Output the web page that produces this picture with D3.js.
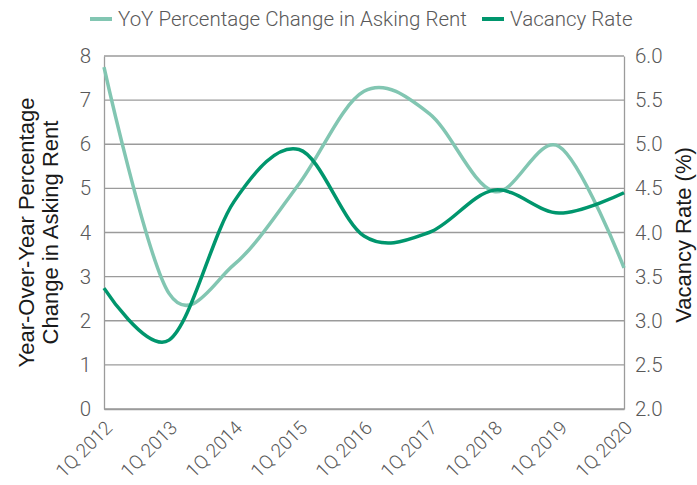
<!DOCTYPE html>
<html>
<head>
<meta charset="utf-8">
<script src="https://cdn.jsdelivr.net/npm/d3@7"></script>
<style>
  body { margin: 0; background: #fff; }
  .tick text, .legend text { font-family: Roboto, "Liberation Sans", sans-serif; font-weight: 300; fill: #595959; }
  .title { font-family: "Liberation Sans", Arial, sans-serif; fill: #1a1a1a; }
</style>
</head>
<body>
<div id="chart"></div>
<script>
/* global d3 */
var quarters = ['1Q 2012', '1Q 2013', '1Q 2014', '1Q 2015', '1Q 2016', '1Q 2017', '1Q 2018', '1Q 2019', '1Q 2020'];
var rentChange = [7.75, 2.62, 3.27, 5.1, 7.2, 6.7, 4.93, 5.95, 3.2];
var vacancyRate = [3.37, 2.78, 4.35, 4.94, 3.96, 4.0, 4.48, 4.22, 4.45];
var leftTicks = [0, 1, 2, 3, 4, 5, 6, 7, 8];
var rightTicks = [2.0, 2.5, 3.0, 3.5, 4.0, 4.5, 5.0, 5.5, 6.0];

var lightGreen = '#82c6b2';
var darkGreen = '#00966d';

function plotRentChart() {
  let width = 697;
  let height = 485;
  let margin = { top: 56, right: 73, bottom: 76, left: 104 };
  let w = width - margin.left - margin.right;
  let h = height - margin.top - margin.bottom;

  let svg = d3.select('#chart')
    .append('svg')
    .attr('width', width)
    .attr('height', height);

  let g = svg.append('g')
    .attr('transform', 'translate(' + margin.left + ',' + margin.top + ')');

  let x = d3.scalePoint().domain(quarters).range([0, w]);
  let yLeft = d3.scaleLinear().domain([0, 8]).range([h, 0]);
  let yRight = d3.scaleLinear().domain([2, 6]).range([h, 0]);

  // gridlines
  g.selectAll('line.grid')
    .data(leftTicks)
    .enter()
    .append('line')
    .attr('class', 'grid')
    .attr('x1', 0)
    .attr('x2', w)
    .attr('y1', d => yLeft(d))
    .attr('y2', d => yLeft(d))
    .attr('stroke', '#9b9b9b')
    .attr('stroke-width', 1.3);

  // left axis
  let leftAxis = g.append('g')
    .call(d3.axisLeft(yLeft).tickValues(leftTicks).tickSize(0).tickPadding(13).tickFormat(d3.format('d')));
  leftAxis.select('.domain').attr('stroke', '#9b9b9b').attr('stroke-width', 1.3);
  leftAxis.selectAll('text').attr('font-size', 20.5);

  // right axis
  let rightAxis = g.append('g')
    .attr('transform', 'translate(' + w + ',0)')
    .call(d3.axisRight(yRight).tickValues(rightTicks).tickSize(0).tickPadding(11).tickFormat(d3.format('.1f')));
  rightAxis.select('.domain').attr('stroke', '#9b9b9b').attr('stroke-width', 1.3);
  rightAxis.selectAll('text').attr('font-size', 20.5);

  // x axis labels, rotated
  let xAxis = g.append('g')
    .attr('transform', 'translate(0,' + h + ')')
    .call(d3.axisBottom(x).tickSize(0).tickPadding(0));
  xAxis.select('.domain').attr('stroke', '#9b9b9b').attr('stroke-width', 1.3);
  xAxis.selectAll('text')
    .attr('font-size', 19)
    .attr('text-anchor', 'end')
    .attr('dy', 0)
    .attr('y', 0)
    .attr('transform', 'translate(9,20) rotate(-45)');

  // lines
  let rentLine = d3.line()
    .x((d, i) => x(quarters[i]))
    .y(d => yLeft(d))
    .curve(d3.curveCardinal.tension(0));
  let vacLine = d3.line()
    .x((d, i) => x(quarters[i]))
    .y(d => yRight(d))
    .curve(d3.curveCardinal.tension(0));

  g.append('path')
    .datum(rentChange)
    .attr('d', rentLine)
    .attr('fill', 'none')
    .attr('stroke', lightGreen)
    .attr('stroke-width', 3.5);

  g.append('path')
    .datum(vacancyRate)
    .attr('d', vacLine)
    .attr('fill', 'none')
    .attr('stroke', darkGreen)
    .attr('stroke-width', 3.5);

  // axis titles
  let leftTitle = svg.append('text')
    .attr('class', 'title')
    .attr('font-size', 22)
    .attr('text-anchor', 'middle')
    .attr('transform', 'translate(34,' + (margin.top + h / 2) + ') rotate(-90)');
  leftTitle.append('tspan').attr('x', 0).attr('dy', 0).text('Year-Over-Year Percentage');
  leftTitle.append('tspan').attr('x', 0).attr('dy', 24).text('Change in Asking Rent');

  svg.append('text')
    .attr('class', 'title')
    .attr('font-size', 22)
    .attr('text-anchor', 'middle')
    .attr('transform', 'translate(691,235) rotate(-90)')
    .text('Vacancy Rate (%)');

  // legend
  let legendItems = [
    { label: 'YoY Percentage Change in Asking Rent', color: lightGreen, x: 90 },
    { label: 'Vacancy Rate', color: darkGreen, x: 482 }
  ];
  let legend = svg.append('g').attr('class', 'legend');
  let items = legend.selectAll('g')
    .data(legendItems)
    .enter()
    .append('g')
    .attr('transform', d => 'translate(' + d.x + ',19)');
  items.append('line')
    .attr('x1', 0)
    .attr('x2', 22)
    .attr('stroke', d => d.color)
    .attr('stroke-width', 4);
  items.append('text')
    .attr('x', 28)
    .attr('dy', '0.35em')
    .attr('font-size', 20.5)
    .text(d => d.label);
}
plotRentChart();
</script>
</body>
</html>
